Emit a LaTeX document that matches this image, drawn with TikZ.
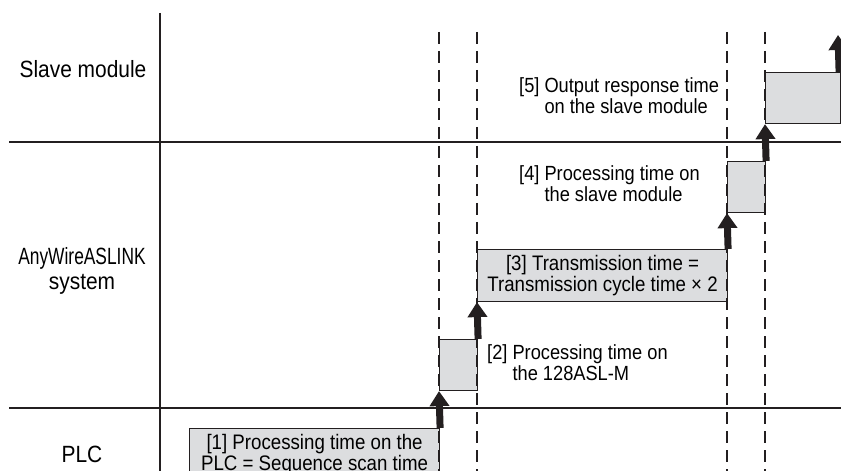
\documentclass[tikz,border=0pt]{standalone}
\usepackage{fontspec}
\setmainfont[FakeStretch=0.89]{Liberation Sans}
\usetikzlibrary{arrows.meta}
\definecolor{boxgray}{RGB}{220,221,223}
\definecolor{ink}{RGB}{35,31,32}
\newcommand{\hangtext}[3]{\begin{tabular}{@{}l@{ }l@{}}#1 & #2\\ & #3\end{tabular}}

\begin{document}
\begin{tikzpicture}[x=1bp,y=-1bp,
    frame/.style={draw=ink,line width=1.8bp},
    dashline/.style={draw=ink,line width=2bp,dash pattern=on 12bp off 7bp},
    timebox/.style={draw=ink,fill=boxgray,line width=1.1bp,inner sep=0pt,anchor=north west,align=center,font=\fontsize{21bp}{21bp}\selectfont},
    lane/.style={align=center,font=\fontsize{23.5bp}{25bp}\selectfont},
    note/.style={anchor=west,inner sep=0pt,font=\fontsize{20.5bp}{20bp}\selectfont},
    upar/.style={draw=ink,line width=7bp,-{Triangle[width=19bp,length=15bp]}}]
      \useasboundingbox (0,0) rectangle (841,471);
      \clip (0,0) rectangle (841,471);
      \node[lane](slave) at (83,69) {Slave module};
      \node[lane](asl) at (82,271) {\scalebox{0.83}[1]{AnyWireASLINK}\\system};
      \node[lane](plc) at (82,454) {PLC};
      \draw[frame] (160,13) -- (160,471);
      \draw[frame] (9,142) -- (841,142);
      \draw[frame] (9,408) -- (841,408);
      \node[timebox,minimum width=250bp,minimum height=52bp](b1) at (189,428) {[1] Processing time on the\\PLC = Sequence scan time};
      \node[timebox,minimum width=38bp,minimum height=51bp](b2) at (439,339) {};
      \node[timebox,minimum width=250bp,minimum height=52bp](b3) at (477,249) {[3] Transmission time =\\Transmission cycle time × 2};
      \node[timebox,minimum width=38bp,minimum height=51bp](b4) at (727,161) {};
      \node[timebox,minimum width=75bp,minimum height=51bp](b5) at (765,72) {};
      \foreach \x in {439,477,727,765}
        \draw[dashline] (\x,32) -- (\x,471);
      \node[note](n2) at (487,366) {\hangtext{[2]}{Processing time on}{the 128ASL-M}};
      \node[note](n4) at (519,187) {\hangtext{[4]}{Processing time on}{the slave module}};
      \node[note](n5) at (519,99) {\hangtext{[5]}{Output response time}{on the slave module}};
      \coordinate(out) at (838,35);
      \draw[upar] (b1.north east) -- (b2.south west);
      \draw[upar] (b2.north east) -- (b3.south west);
      \draw[upar] (b3.north east) -- (b4.south west);
      \draw[upar] (b4.north east) -- (b5.south west);
      \draw[upar] ([xshift=-2bp]b5.north east) -- (out);
    \end{tikzpicture}
\end{document}
